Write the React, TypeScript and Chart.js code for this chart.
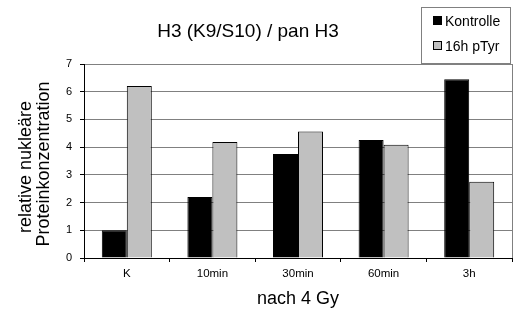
import React, { useEffect, useRef } from 'react';
import { Chart, registerables } from 'chart.js';
Chart.register(...registerables);

const categories = ['K', '10min', '30min', '60min', '3h'];
const kontrolle = [1.0, 2.2, 3.75, 4.26, 6.45];
const pTyr = [6.21, 4.19, 4.56, 4.09, 2.75];
const seriesNames = ['Kontrolle', '16h pTyr'];
const titleText = 'H3 (K9/S10) / pan H3';
const yTitleLines = ['relative nukleäre', 'Proteinkonzentration'];
const xTitleText = 'nach 4 Gy';
const yMin = 0;
const yMax = 7;

const FONT = '"Liberation Sans", Arial, sans-serif';

const overlay = {
  id: 'overlay',
  afterDraw(chart: any) {
    const ctx = chart.ctx;
    const ca = chart.chartArea;
    ctx.save();
    // plot area right border
    ctx.strokeStyle = '#808080';
    ctx.lineWidth = 1;
    ctx.beginPath();
    ctx.moveTo(Math.round(ca.right) + 0.5, ca.top);
    ctx.lineTo(Math.round(ca.right) + 0.5, ca.bottom);
    ctx.stroke();

    ctx.fillStyle = '#000';
    // title
    ctx.font = `19px ${FONT}`;
    ctx.textAlign = 'center';
    ctx.textBaseline = 'alphabetic';
    ctx.fillText(titleText, 248, 37);

    // x title
    ctx.font = `18px ${FONT}`;
    ctx.fillText(xTitleText, (ca.left + ca.right) / 2, 304);

    // y title
    ctx.save();
    ctx.translate(0, (ca.top + ca.bottom) / 2 + 3);
    ctx.rotate(-Math.PI / 2);
    ctx.fillText(yTitleLines[0], -3, 31);
    ctx.fillText(yTitleLines[1], 0, 49);
    ctx.restore();

    // legend
    const lx = 421, ly = 7, lw = 89, lh = 56;
    ctx.fillStyle = '#fff';
    ctx.fillRect(lx, ly, lw, lh);
    ctx.strokeStyle = '#808080';
    ctx.strokeRect(lx + 0.5, ly + 0.5, lw, lh);
    const colors = ['#000000', '#c0c0c0'];
    const rows = [16, 41];
    ctx.font = `14px ${FONT}`;
    ctx.textAlign = 'left';
    for (let i = 0; i < 2; i++) {
      ctx.fillStyle = colors[i];
      ctx.fillRect(433, rows[i], 9, 9);
      ctx.strokeStyle = '#000';
      ctx.strokeRect(433.5, rows[i] + 0.5, 8, 8);
      ctx.fillStyle = '#000';
      ctx.fillText(seriesNames[i], 445, rows[i] + 10);
    }
    ctx.restore();
  },
};

export default function App() {
  const ref = useRef<HTMLCanvasElement | null>(null);
  useEffect(() => {
    if (!ref.current) return;
    const chart = new Chart(ref.current, {
      type: 'bar',
      data: {
        labels: categories,
        datasets: [
          {
            label: seriesNames[0],
            data: kontrolle,
            backgroundColor: '#000000',
            borderColor: '#000000',
            borderWidth: 1,
            categoryPercentage: 0.584,
            barPercentage: 1,
          },
          {
            label: seriesNames[1],
            data: pTyr,
            backgroundColor: '#c0c0c0',
            borderColor: '#000000',
            borderWidth: 1,
            categoryPercentage: 0.584,
            barPercentage: 1,
          },
        ],
      },
      options: {
        animation: false,
        responsive: true,
        maintainAspectRatio: false,
        layout: { padding: { top: 64, right: 6, left: 0, bottom: 0 } },
        plugins: {
          legend: { display: false },
          title: { display: false },
          tooltip: { enabled: false },
        },
        scales: {
          x: {
            afterFit: (s: any) => { s.height = 58; },
            grid: {
              offset: true,
              drawOnChartArea: false,
              drawTicks: true,
              tickLength: 4,
              tickColor: '#000',
              color: '#000',
            },
            border: { color: '#000', width: 1 },
            ticks: { color: '#000', font: { family: FONT, size: 11.5 }, padding: 5 },
          },
          y: {
            min: yMin,
            max: yMax,
            afterFit: (s: any) => { s.width = 84; },
            grid: { color: '#808080', tickColor: '#000', tickLength: 4 },
            border: { color: '#000', width: 1 },
            ticks: { stepSize: 1, color: '#000', font: { family: FONT, size: 11 }, padding: 8 },
          },
        },
      },
      plugins: [overlay],
    });
    return () => chart.destroy();
  }, []);
  return (
    <div style={{ position: 'absolute', left: 0, top: 0, width: 518, height: 316, background: '#fff' }}>
      <canvas ref={ref} />
    </div>
  );
}
